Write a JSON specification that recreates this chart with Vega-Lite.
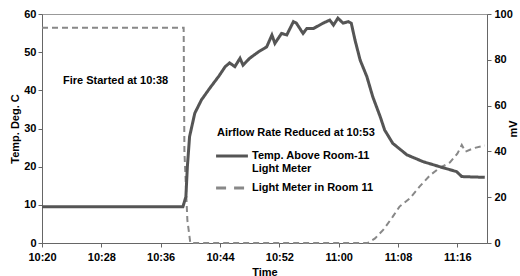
{
  "$schema": "https://vega.github.io/schema/vega-lite/v6.json",
  "width": 445,
  "height": 229,
  "autosize": {"type": "none"},
  "padding": {"left": 42, "top": 14, "right": 33, "bottom": 33},
  "background": "white",
  "config": {
    "view": {"stroke": "#999999", "strokeWidth": 1},
    "font": "Liberation Sans",
    "axis": {
      "labelFont": "Liberation Sans", "labelFontWeight": "bold", "labelFontSize": 11, "labelColor": "#000000",
      "titleFont": "Liberation Sans", "titleFontWeight": "bold", "titleFontSize": 11, "titleColor": "#000000",
      "domainColor": "#666666", "tickColor": "#666666", "tickSize": 4, "grid": false
    },
    "legend": {
      "labelFont": "Liberation Sans", "labelFontWeight": "bold", "labelFontSize": 11, "labelColor": "#000000"
    }
  },
  "datasets": {
    "series": [
      {"t": "2000-01-01T10:20:00", "s": "Temp. Above Room-11 Light Meter", "v": 9.5},
      {"t": "2000-01-01T10:39:00", "s": "Temp. Above Room-11 Light Meter", "v": 9.5},
      {"t": "2000-01-01T10:39:24", "s": "Temp. Above Room-11 Light Meter", "v": 12.1},
      {"t": "2000-01-01T10:39:36", "s": "Temp. Above Room-11 Light Meter", "v": 20},
      {"t": "2000-01-01T10:39:54", "s": "Temp. Above Room-11 Light Meter", "v": 27.9},
      {"t": "2000-01-01T10:40:36", "s": "Temp. Above Room-11 Light Meter", "v": 34},
      {"t": "2000-01-01T10:41:30", "s": "Temp. Above Room-11 Light Meter", "v": 37.5},
      {"t": "2000-01-01T10:42:36", "s": "Temp. Above Room-11 Light Meter", "v": 40.5},
      {"t": "2000-01-01T10:43:48", "s": "Temp. Above Room-11 Light Meter", "v": 43.6},
      {"t": "2000-01-01T10:44:42", "s": "Temp. Above Room-11 Light Meter", "v": 46.2},
      {"t": "2000-01-01T10:45:18", "s": "Temp. Above Room-11 Light Meter", "v": 47.2},
      {"t": "2000-01-01T10:46:00", "s": "Temp. Above Room-11 Light Meter", "v": 46.2},
      {"t": "2000-01-01T10:46:42", "s": "Temp. Above Room-11 Light Meter", "v": 48.4},
      {"t": "2000-01-01T10:47:06", "s": "Temp. Above Room-11 Light Meter", "v": 46.6},
      {"t": "2000-01-01T10:48:00", "s": "Temp. Above Room-11 Light Meter", "v": 48.4},
      {"t": "2000-01-01T10:49:12", "s": "Temp. Above Room-11 Light Meter", "v": 50.1},
      {"t": "2000-01-01T10:50:18", "s": "Temp. Above Room-11 Light Meter", "v": 51.4},
      {"t": "2000-01-01T10:51:00", "s": "Temp. Above Room-11 Light Meter", "v": 54.5},
      {"t": "2000-01-01T10:51:24", "s": "Temp. Above Room-11 Light Meter", "v": 52.3},
      {"t": "2000-01-01T10:52:18", "s": "Temp. Above Room-11 Light Meter", "v": 54.9},
      {"t": "2000-01-01T10:53:00", "s": "Temp. Above Room-11 Light Meter", "v": 54.5},
      {"t": "2000-01-01T10:53:54", "s": "Temp. Above Room-11 Light Meter", "v": 58},
      {"t": "2000-01-01T10:54:18", "s": "Temp. Above Room-11 Light Meter", "v": 57.6},
      {"t": "2000-01-01T10:55:12", "s": "Temp. Above Room-11 Light Meter", "v": 54.9},
      {"t": "2000-01-01T10:55:42", "s": "Temp. Above Room-11 Light Meter", "v": 56.2},
      {"t": "2000-01-01T10:56:36", "s": "Temp. Above Room-11 Light Meter", "v": 56.2},
      {"t": "2000-01-01T10:57:54", "s": "Temp. Above Room-11 Light Meter", "v": 57.6},
      {"t": "2000-01-01T10:58:48", "s": "Temp. Above Room-11 Light Meter", "v": 58.4},
      {"t": "2000-01-01T10:59:18", "s": "Temp. Above Room-11 Light Meter", "v": 57.1},
      {"t": "2000-01-01T10:59:54", "s": "Temp. Above Room-11 Light Meter", "v": 58.9},
      {"t": "2000-01-01T11:00:36", "s": "Temp. Above Room-11 Light Meter", "v": 57.6},
      {"t": "2000-01-01T11:01:18", "s": "Temp. Above Room-11 Light Meter", "v": 58},
      {"t": "2000-01-01T11:01:42", "s": "Temp. Above Room-11 Light Meter", "v": 57.6},
      {"t": "2000-01-01T11:02:12", "s": "Temp. Above Room-11 Light Meter", "v": 53.2},
      {"t": "2000-01-01T11:02:54", "s": "Temp. Above Room-11 Light Meter", "v": 47.9},
      {"t": "2000-01-01T11:03:48", "s": "Temp. Above Room-11 Light Meter", "v": 43.6},
      {"t": "2000-01-01T11:04:36", "s": "Temp. Above Room-11 Light Meter", "v": 38.3},
      {"t": "2000-01-01T11:05:36", "s": "Temp. Above Room-11 Light Meter", "v": 33.1},
      {"t": "2000-01-01T11:06:12", "s": "Temp. Above Room-11 Light Meter", "v": 29.6},
      {"t": "2000-01-01T11:07:18", "s": "Temp. Above Room-11 Light Meter", "v": 26.1},
      {"t": "2000-01-01T11:09:12", "s": "Temp. Above Room-11 Light Meter", "v": 23.1},
      {"t": "2000-01-01T11:11:24", "s": "Temp. Above Room-11 Light Meter", "v": 21.3},
      {"t": "2000-01-01T11:13:36", "s": "Temp. Above Room-11 Light Meter", "v": 20},
      {"t": "2000-01-01T11:15:54", "s": "Temp. Above Room-11 Light Meter", "v": 18.7},
      {"t": "2000-01-01T11:16:36", "s": "Temp. Above Room-11 Light Meter", "v": 17.4},
      {"t": "2000-01-01T11:19:42", "s": "Temp. Above Room-11 Light Meter", "v": 17.2},
      {"t": "2000-01-01T10:20:00", "s": "Light Meter in Room 11", "v": 94},
      {"t": "2000-01-01T10:39:06", "s": "Light Meter in Room 11", "v": 94},
      {"t": "2000-01-01T10:39:12", "s": "Light Meter in Room 11", "v": 40},
      {"t": "2000-01-01T10:39:36", "s": "Light Meter in Room 11", "v": 10},
      {"t": "2000-01-01T10:40:00", "s": "Light Meter in Room 11", "v": 0},
      {"t": "2000-01-01T11:03:54", "s": "Light Meter in Room 11", "v": 0},
      {"t": "2000-01-01T11:04:54", "s": "Light Meter in Room 11", "v": 2},
      {"t": "2000-01-01T11:06:00", "s": "Light Meter in Room 11", "v": 5.7},
      {"t": "2000-01-01T11:07:18", "s": "Light Meter in Room 11", "v": 11.5},
      {"t": "2000-01-01T11:08:12", "s": "Light Meter in Room 11", "v": 15.9},
      {"t": "2000-01-01T11:09:36", "s": "Light Meter in Room 11", "v": 19.5},
      {"t": "2000-01-01T11:10:54", "s": "Light Meter in Room 11", "v": 24.6},
      {"t": "2000-01-01T11:12:18", "s": "Light Meter in Room 11", "v": 29.5},
      {"t": "2000-01-01T11:13:36", "s": "Light Meter in Room 11", "v": 32.8},
      {"t": "2000-01-01T11:15:00", "s": "Light Meter in Room 11", "v": 35.2},
      {"t": "2000-01-01T11:16:00", "s": "Light Meter in Room 11", "v": 39},
      {"t": "2000-01-01T11:16:36", "s": "Light Meter in Room 11", "v": 42.8},
      {"t": "2000-01-01T11:17:06", "s": "Light Meter in Room 11", "v": 39.9},
      {"t": "2000-01-01T11:18:12", "s": "Light Meter in Room 11", "v": 41.4},
      {"t": "2000-01-01T11:19:42", "s": "Light Meter in Room 11", "v": 42.6}
    ],
    "notes": [
      {"t": "2000-01-01T10:22:50", "y": 42.4, "label": "Fire Started at 10:38"},
      {"t": "2000-01-01T10:43:36", "y": 28.7, "label": "Airflow Rate Reduced at 10:53"}
    ]
  },
  "encoding": {
    "x": {
      "field": "t", "type": "temporal", "title": "Time",
      "scale": {"domain": [
        {"year": 2000, "month": 1, "date": 1, "hours": 10, "minutes": 20},
        {"year": 2000, "month": 1, "date": 1, "hours": 11, "minutes": 20}
      ]},
      "axis": {
        "format": "%H:%M", "labelPadding": 4, "titlePadding": 4, "labelFlush": false,
        "values": [
          {"year": 2000, "month": 1, "date": 1, "hours": 10, "minutes": 20},
          {"year": 2000, "month": 1, "date": 1, "hours": 10, "minutes": 28},
          {"year": 2000, "month": 1, "date": 1, "hours": 10, "minutes": 36},
          {"year": 2000, "month": 1, "date": 1, "hours": 10, "minutes": 44},
          {"year": 2000, "month": 1, "date": 1, "hours": 10, "minutes": 52},
          {"year": 2000, "month": 1, "date": 1, "hours": 11, "minutes": 0},
          {"year": 2000, "month": 1, "date": 1, "hours": 11, "minutes": 8},
          {"year": 2000, "month": 1, "date": 1, "hours": 11, "minutes": 16}
        ]
      }
    }
  },
  "layer": [
    {
      "data": {"name": "series"},
      "transform": [{"filter": "datum.s == 'Light Meter in Room 11'"}],
      "mark": {"type": "line", "strokeWidth": 2, "interpolate": "linear"},
      "encoding": {
        "y": {
          "field": "v", "type": "quantitative", "title": "mV",
          "scale": {"domain": [0, 100]},
          "axis": {"orient": "right", "values": [0, 20, 40, 60, 80, 100], "titleAngle": 270, "labelPadding": 3, "titlePadding": 6}
        },
        "color": {
          "field": "s", "type": "nominal",
          "scale": {"domain": ["Temp. Above Room-11 Light Meter", "Light Meter in Room 11"], "range": ["#555555", "#888888"]},
          "legend": null
        },
        "strokeDash": {
          "field": "s", "type": "nominal",
          "scale": {"domain": ["Temp. Above Room-11 Light Meter", "Light Meter in Room 11"], "range": [[1, 0], [6, 4]]},
          "legend": null
        }
      }
    },
    {
      "data": {"name": "series"},
      "transform": [{"filter": "datum.s == 'Temp. Above Room-11 Light Meter'"}],
      "mark": {"type": "line", "strokeWidth": 3, "interpolate": "linear"},
      "encoding": {
        "y": {
          "field": "v", "type": "quantitative", "title": "Temp.  Deg. C",
          "scale": {"domain": [0, 60]},
          "axis": {"orient": "left", "values": [0, 10, 20, 30, 40, 50, 60], "labelPadding": 2, "titlePadding": 3}
        },
        "color": {
          "field": "s", "type": "nominal",
          "scale": {"domain": ["Temp. Above Room-11 Light Meter", "Light Meter in Room 11"], "range": ["#555555", "#888888"]},
          "legend": {
            "title": null, "orient": "none", "legendX": 176, "legendY": 128,
            "symbolType": "M-1.3,0H1.3", "symbolStrokeWidth": 3, "symbolSize": 600,
            "rowPadding": -2, "labelOffset": 6,
            "labelExpr": "datum.label == 'Temp. Above Room-11 Light Meter' ? ['Temp. Above Room-11', 'Light Meter'] : datum.label"
          }
        },
        "strokeDash": {
          "field": "s", "type": "nominal",
          "scale": {"domain": ["Temp. Above Room-11 Light Meter", "Light Meter in Room 11"], "range": [[1, 0], [10, 8]]},
          "legend": {
            "title": null, "orient": "none", "legendX": 176, "legendY": 128,
            "symbolType": "M-1.3,0H1.3", "symbolStrokeWidth": 3, "symbolSize": 600,
            "rowPadding": -2, "labelOffset": 6,
            "labelExpr": "datum.label == 'Temp. Above Room-11 Light Meter' ? ['Temp. Above Room-11', 'Light Meter'] : datum.label"
          }
        }
      }
    },
    {
      "data": {"name": "notes"},
      "mark": {"type": "text", "align": "left", "baseline": "middle", "font": "Liberation Sans", "fontWeight": "bold", "fontSize": 11, "color": "#000000"},
      "encoding": {
        "y": {"field": "y", "type": "quantitative", "scale": {"domain": [0, 60]}, "axis": null},
        "text": {"field": "label"}
      }
    }
  ],
  "resolve": {"scale": {"y": "independent", "strokeDash": "independent", "color": "independent"}}
}
